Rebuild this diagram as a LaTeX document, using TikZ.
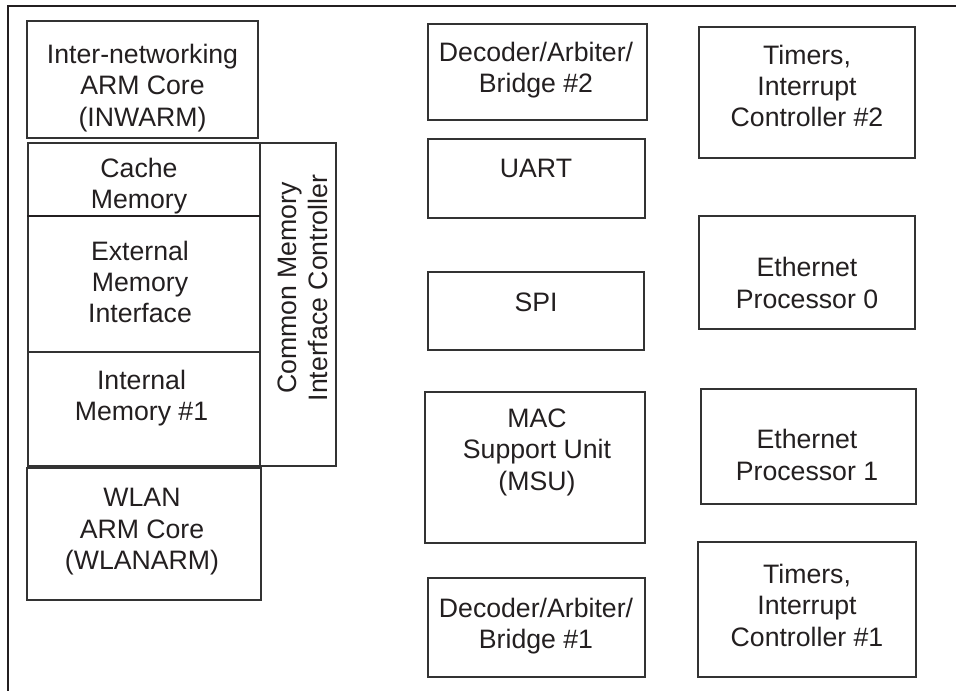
\documentclass[tikz,border=0pt]{standalone}
\usepackage{fontspec}
\setmainfont{Liberation Sans}
\usetikzlibrary{fit}
\definecolor{ink}{HTML}{231F20}
\definecolor{edge}{HTML}{333333}
\tikzset{
  blk/.style={draw=edge, line width=0.8pt, inner sep=0pt, outer sep=0pt},
  lbl/.style={font=\fontsize{20}{23.6}\selectfont, text=ink, align=center, inner sep=0pt},
  frameline/.style={draw=ink, line width=1.6pt},
}
\begin{document}
\begin{tikzpicture}[x=0.75pt, y=-0.75pt]
\useasboundingbox (0,0) rectangle (956,691);
% outer frame (top and left edges)
\coordinate (fbl) at (8,691);
\coordinate (ftl) at (8,6);
\coordinate (ftr) at (956,6);
\draw[frameline] (fbl) -- (ftl) -- (ftr);

% left column
\node[blk, fit={(27,21) (258,138)}] (inw) {};
\node[blk, fit={(28,143) (260,216)}] (cache) {};
\node[blk, fit={(28,216) (260,352)}] (ext) {};
\node[blk, fit={(28,352) (260,466)}] (int) {};
\node[blk, fit={(260,143) (336,466)}] (cmic) {};
\node[blk, fit={(27,468) (261,600)}] (wlan) {};
\draw[draw=ink, line width=1.3pt] (27,216) -- (cache.south east);

% middle column
\node[blk, fit={(428,24) (647,120)}] (dec2) {};
\node[blk, fit={(428,139) (645,218)}] (uart) {};
\node[blk, fit={(428,272) (644,350)}] (spi) {};
\node[blk, fit={(425,392) (645,543)}] (msu) {};
\node[blk, fit={(428,578) (645,677)}] (dec1) {};

% right column
\node[blk, fit={(699,27) (915,158)}] (tim2) {};
\node[blk, fit={(699,216) (915,329)}] (eth0) {};
\node[blk, fit={(701,389) (916,504)}] (eth1) {};
\node[blk, fit={(698,542) (916,677)}] (tim1) {};

% labels
\node[lbl] (t-inw) at (142.5,88) {Inter-networking\\ARM Core\\(INWARM)};
\node[lbl] (t-cache) at (139,186) {Cache\\Memory};
\node[lbl] (t-ext) at (140,282) {External\\Memory\\Interface};
\node[lbl] (t-int) at (141.5,398) {Internal\\Memory \#1};
\node[lbl] (t-wlan) at (142,532) {WLAN\\ARM Core\\(WLANARM)};
\node[lbl, rotate=90] (t-cmic) at (303,288) {Common Memory\\Interface Controller};
\node[lbl] (t-dec2) at (536,70) {Decoder/Arbiter/\\Bridge \#2};
\node[lbl] (t-uart) at (536,168) {UART};
\node[lbl] (t-spi) at (536,302) {SPI};
\node[lbl] (t-msu) at (537,452) {MAC\\Support Unit\\(MSU)};
\node[lbl] (t-dec1) at (536,626) {Decoder/Arbiter/\\Bridge \#1};
\node[lbl] (t-tim2) at (807,86) {Timers,\\Interrupt\\Controller \#2};
\node[lbl] (t-eth0) at (807,283) {Ethernet\\Processor 0};
\node[lbl] (t-eth1) at (807,455) {Ethernet\\Processor 1};
\node[lbl] (t-tim1) at (807,605) {Timers,\\Interrupt\\Controller \#1};
\end{tikzpicture}
\end{document}
